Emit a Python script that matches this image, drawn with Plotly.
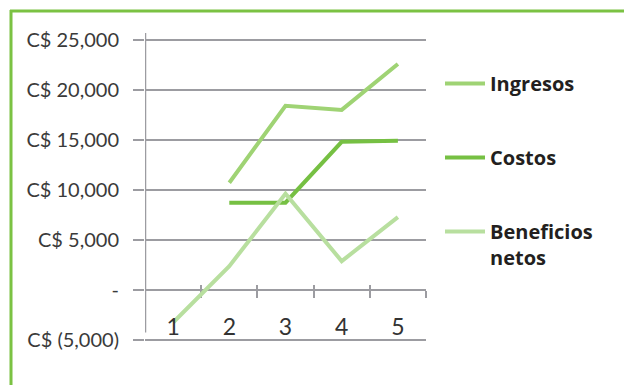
import plotly.graph_objects as go

# ---- data ----
categories = [1, 2, 3, 4, 5]
category_labels = ["1", "2", "3", "4", "5"]
ingresos = [None, 10700, 18400, 18000, 22600]
costos = [None, 8700, 8700, 14800, 14900]
beneficios = [-3300, 2350, 9600, 2850, 7250]
series_names = ["Ingresos", "Costos", "Beneficios<br>netos"]
series_colors = ["#9fd374", "#76c043", "#b8df9f"]
y_tickvals = [-5000, 0, 5000, 10000, 15000, 20000, 25000]
y_ticktext = ["C$ (5,000)", "-", "C$ 5,000", "C$ 10,000", "C$ 15,000",
              "C$ 20,000", "C$ 25,000"]
boundaries = [1.5, 2.5, 3.5, 4.5, 5.5]

W, H = 624, 385
L, R, T, B = 145, 198, 33, 42
PW, PH = W - L - R, H - T - B
Y_MIN, Y_MAX = -5350, 25700
GRID = "#9c9ca1"
BORDER = "#7bc243"


def px(x):
    return (x - L) / PW


def py(y):
    return 1 - (y - T) / PH


fig = go.Figure()
for name, vals, col in zip(series_names, [ingresos, costos, beneficios], series_colors):
    fig.add_trace(go.Scatter(
        x=categories, y=vals, mode="lines", name=name,
        line=dict(color=col, width=4), legendgroup=name,
        connectgaps=False,
    ))

# dummy traces so the overlay axes render
for ax in ["x2", "x3", "x4"]:
    fig.add_trace(go.Scatter(x=[None], y=[None], xaxis=ax, showlegend=False,
                             hoverinfo="skip"))

zero_pos = (0 - Y_MIN) / (Y_MAX - Y_MIN)
overlay = dict(overlaying="x", matches="x", anchor="free", side="bottom",
               showline=False, showgrid=False, zeroline=False, tickmode="array")

fig.update_layout(
    width=W, height=H,
    margin=dict(l=L, r=R, t=T, b=B),
    paper_bgcolor="white", plot_bgcolor="white",
    showlegend=True,
    legend=dict(
        x=px(440), y=py(64), xanchor="left", yanchor="top",
        font=dict(family="Open Sans", size=20, color="#231f20", weight="bold"),
        traceorder="grouped", tracegroupgap=45, valign="top", itemwidth=40,
        bgcolor="rgba(0,0,0,0)",
    ),
    xaxis=dict(
        range=[0.5, 5.5], showticklabels=False, ticks="", showline=False,
        showgrid=False, zeroline=False,
    ),
    xaxis2=dict(
        **overlay, position=zero_pos, tickvals=boundaries, ticks="outside",
        ticklen=7, tickwidth=2, tickcolor=GRID, showticklabels=False,
        layer="below traces",
    ),
    xaxis3=dict(
        **overlay, position=zero_pos, tickvals=boundaries, ticks="inside",
        ticklen=5, tickwidth=2, tickcolor=GRID, showticklabels=False,
        layer="below traces",
    ),
    xaxis4=dict(
        **overlay, position=py(311), tickvals=categories,
        ticktext=category_labels, ticks="",
        tickfont=dict(family="Lato", size=23, color="#333333"),
    ),
    yaxis=dict(
        range=[Y_MIN, Y_MAX], tickmode="array", tickvals=y_tickvals,
        ticktext=y_ticktext, showgrid=True, gridcolor=GRID, gridwidth=2,
        ticks="outside", ticklen=11, tickwidth=2, tickcolor=GRID,
        zeroline=False, showline=False, ticklabelstandoff=10,
        tickfont=dict(family="Lato", size=20, color="#3a3a3a"),
    ),
    shapes=[
        # vertical value axis line
        dict(type="line", xref="x", yref="y", x0=0.5, x1=0.5, y0=-4300, y1=Y_MAX,
             line=dict(color=GRID, width=2.5), layer="below"),
        # green frame (top and left edges)
        dict(type="line", xref="paper", yref="paper", x0=px(10), x1=px(640),
             y0=py(11), y1=py(11), line=dict(color=BORDER, width=3)),
        dict(type="line", xref="paper", yref="paper", x0=px(11), x1=px(11),
             y0=py(10), y1=py(400), line=dict(color=BORDER, width=3)),
    ],
)

fig.write_html("out.html")
